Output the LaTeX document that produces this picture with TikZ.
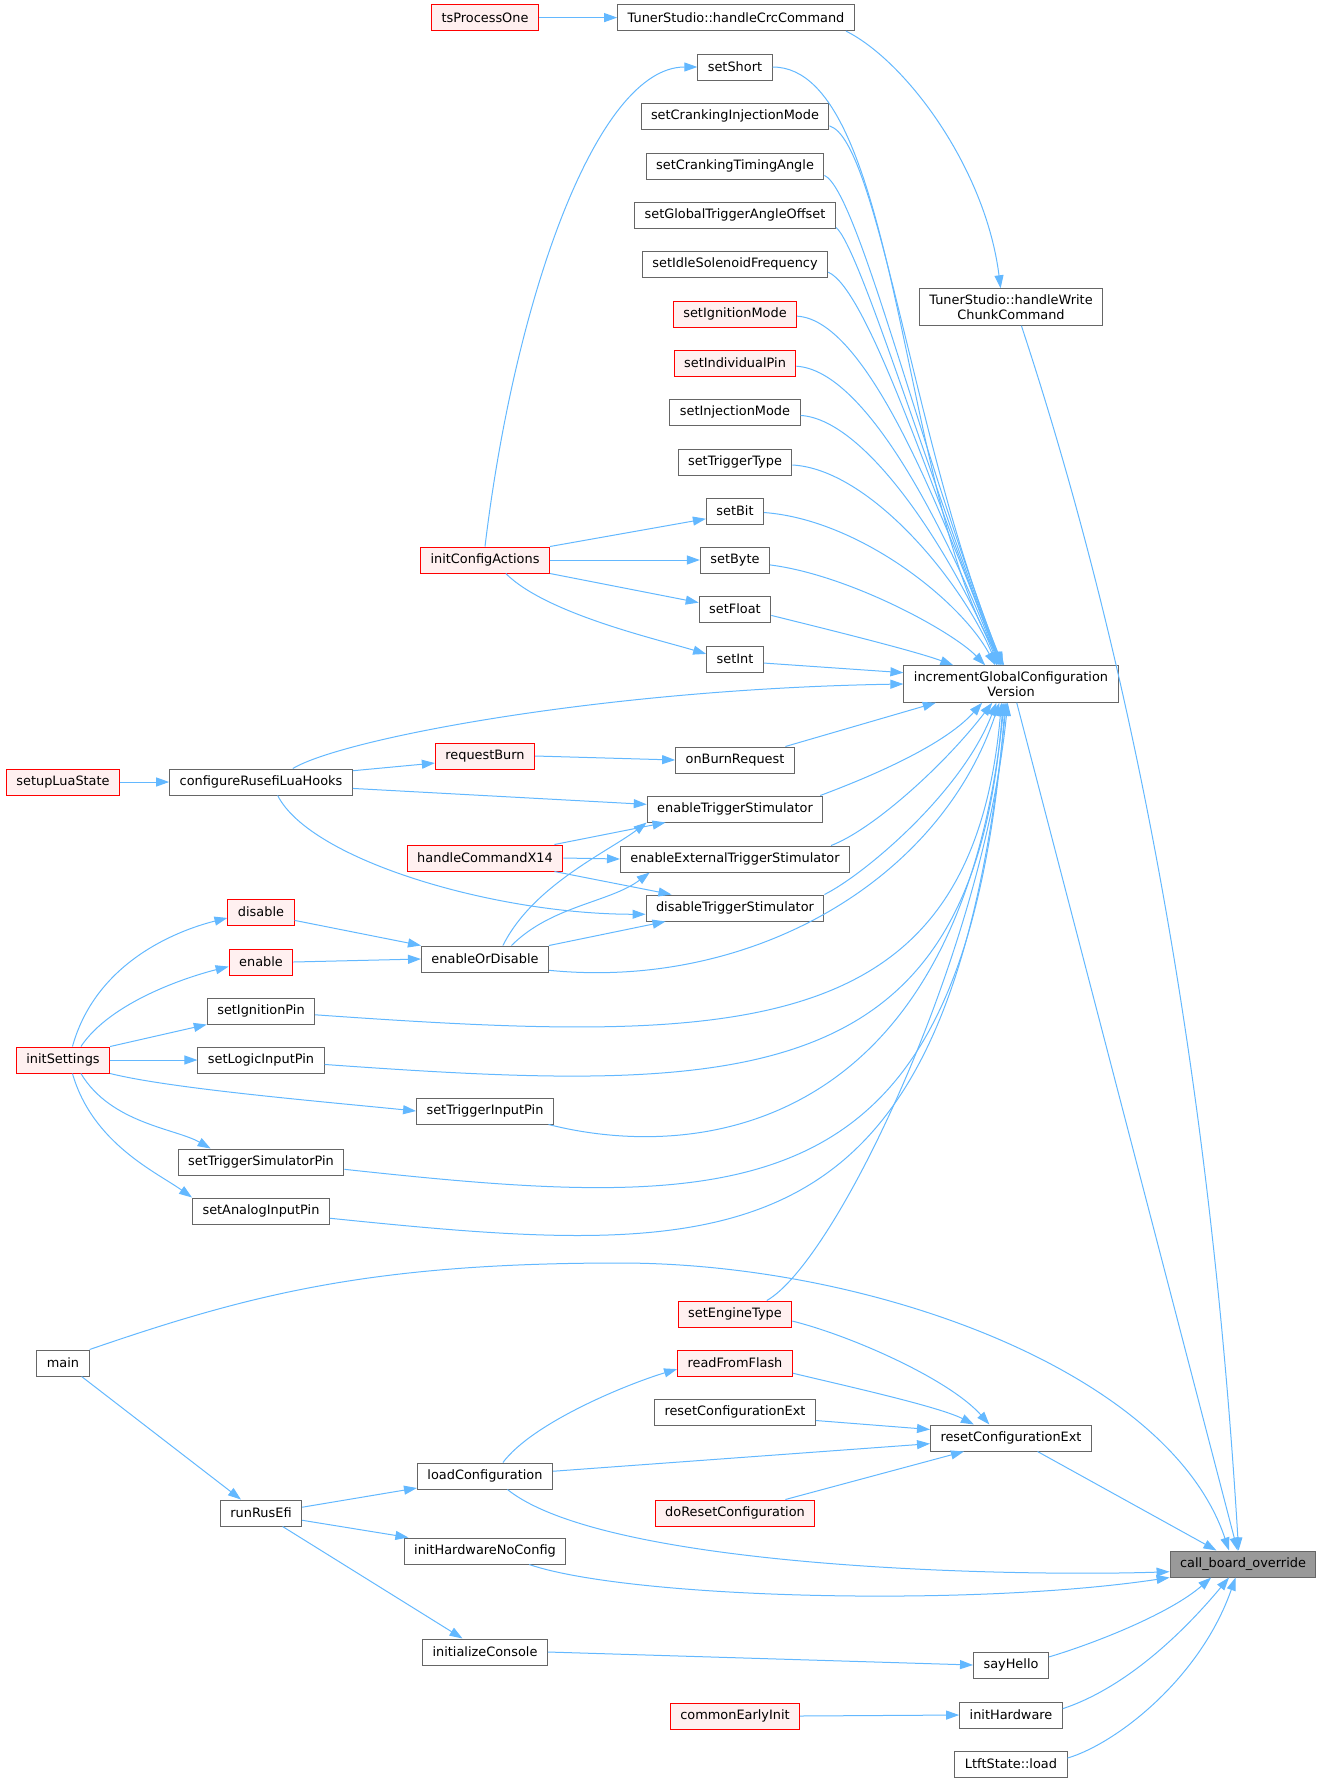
\documentclass[tikz,border=0pt]{standalone}
\usepackage{fontspec}
\setmainfont{DejaVu Sans}
\usetikzlibrary{arrows.meta}

\definecolor{edgeblue}{HTML}{63B8FF}
\definecolor{boxgray}{HTML}{666666}
\definecolor{boxred}{HTML}{FF0000}
\definecolor{redfill}{HTML}{FFF0F0}
\definecolor{hlfill}{HTML}{999999}

\begin{document}
\begin{tikzpicture}[x=1pt, y=-1pt,
	fn/.style={draw=boxgray, fill=white, line width=1pt, inner xsep=10pt, inner ysep=6pt, minimum height=26pt, align=center, font=\fontsize{12.9}{14.5}\selectfont},
	redfn/.style={fn, draw=boxred, fill=redfill},
	hlfn/.style={fn, fill=hlfill},
	edge/.style={draw=edgeblue, line width=1pt, -{Triangle[length=13pt, width=9pt]}}]
				\useasboundingbox (0, 0) rectangle (1324, 1783);
				
				\node[redfn] (ts) at (485, 17.6) {tsProcessOne};
				\node[fn] (crc) at (736, 17.6) {TunerStudio::handleCrcCommand};
				\node[fn] (wchunk) at (1011, 307) {TunerStudio::handleWrite\\ChunkCommand};
				\node[fn] (sshort) at (735, 67) {setShort};
				\node[fn] (scim) at (735, 116) {setCrankingInjectionMode};
				\node[fn] (scta) at (735, 166) {setCrankingTimingAngle};
				\node[fn] (sgtao) at (735, 215) {setGlobalTriggerAngleOffset};
				\node[fn] (sisf) at (735, 264) {setIdleSolenoidFrequency};
				\node[redfn] (sigm) at (735, 314) {setIgnitionMode};
				\node[redfn] (sindp) at (735, 363) {setIndividualPin};
				\node[fn] (sinjm) at (735, 412) {setInjectionMode};
				\node[fn] (stt) at (735, 462) {setTriggerType};
				\node[fn] (sbit) at (735, 511) {setBit};
				\node[fn] (sbyte) at (735, 560) {setByte};
				\node[fn] (sfloat) at (735, 609) {setFloat};
				\node[fn] (sint) at (735, 659) {setInt};
				\node[redfn] (ica) at (485, 560) {initConfigActions};
				\node[fn] (incr) at (1011, 684) {incrementGlobalConfiguration\\Version};
				\node[redfn] (rb) at (485, 756) {requestBurn};
				\node[fn] (obr) at (735, 760) {onBurnRequest};
				\node[redfn] (sls) at (63, 782) {setupLuaState};
				\node[fn] (crlh) at (261, 782) {configureRusefiLuaHooks};
				\node[fn] (ets) at (735, 809) {enableTriggerStimulator};
				\node[redfn] (hcx) at (485, 858) {handleCommandX14};
				\node[fn] (eets) at (735, 859) {enableExternalTriggerStimulator};
				\node[fn] (dts) at (735, 908) {disableTriggerStimulator};
				\node[redfn] (dis) at (261, 912) {disable};
				\node[redfn] (ena) at (261, 962) {enable};
				\node[fn] (eod) at (485, 959) {enableOrDisable};
				\node[fn] (sip) at (261, 1011) {setIgnitionPin};
				\node[redfn] (iset) at (63, 1060) {initSettings};
				\node[fn] (slip) at (261, 1060) {setLogicInputPin};
				\node[fn] (stip) at (485, 1111) {setTriggerInputPin};
				\node[fn] (stsp) at (261, 1162) {setTriggerSimulatorPin};
				\node[fn] (saip) at (261, 1211) {setAnalogInputPin};
				\node[fn] (main) at (63, 1363) {main};
				\node[redfn] (seng) at (735, 1314) {setEngineType};
				\node[redfn] (rff) at (735, 1363) {readFromFlash};
				\node[fn] (rcl) at (735, 1412) {resetConfigurationExt};
				\node[fn] (rcr) at (1011, 1438) {resetConfigurationExt};
				\node[fn] (lcfg) at (485, 1476) {loadConfiguration};
				\node[fn] (rre) at (261, 1513) {runRusEfi};
				\node[redfn] (drc) at (735, 1513) {doResetConfiguration};
				\node[fn] (ihnc) at (485, 1551) {initHardwareNoConfig};
				\node[hlfn] (cbo) at (1243, 1564) {call\_board\_override};
				\node[fn] (icon) at (485, 1652) {initializeConsole};
				\node[fn] (shel) at (1011, 1665) {sayHello};
				\node[redfn] (cei) at (735, 1716) {commonEarlyInit};
				\node[fn] (ihw) at (1011, 1715) {initHardware};
				\node[fn] (ltft) at (1011, 1764) {LtftState::load};
				\coordinate (mainbend) at (620, 1263);
				
				\draw[edge] (ts.east) -- (crc.west);
				\draw[edge] (crc.-7.5) .. controls +(60, 30) and +(-15, -120) .. (wchunk.119);
				\draw[edge] (wchunk.-61) .. controls +(132, 400) and +(-24, -400) .. (cbo.108);
				\draw[edge] (incr.-73) -- (cbo.112);
				
				\draw[edge] (ica.north) .. controls +(30, -250) and +(-100, 0) .. (sshort.west);
				\draw[edge] (ica.north east) -- (sbit.195);
				\draw[edge] (ica.east) -- (sbyte.west);
				\draw[edge] (ica.south east) -- (sfloat.170);
				\draw[edge] (ica.-33) .. controls +(40, 40) and +(-50, -15) .. (sint.170);
				
				\draw[edge] (sshort.east) .. controls +(127, 0) and +(-104, -164) .. (incr.110);
				\draw[edge] (scim.-6) .. controls +(49, 14) and +(-88, -214) .. (incr.113);
				\draw[edge] (scta.-6) .. controls +(33, 15) and +(-82, -214) .. (incr.115);
				\draw[edge] (sgtao.-7) .. controls +(23, 18) and +(-71, -184) .. (incr.117);
				\draw[edge] (sisf.-5) .. controls +(40, 17) and +(-65, -164) .. (incr.118);
				\draw[edge] (sigm.-2) .. controls +(72, 4) and +(-55, -144) .. (incr.120);
				\draw[edge] (sindp.-3) .. controls +(72, 4) and +(-48, -124) .. (incr.122);
				\draw[edge] (sinjm.-3) .. controls +(68, 4) and +(-42, -104) .. (incr.124);
				\draw[edge] (stt.-3) .. controls +(77, 4) and +(-35, -84) .. (incr.127);
				\draw[edge] (sbit.-3) .. controls +(95, 7) and +(-34, -64) .. (incr.130);
				\draw[edge] (sbyte.-8) .. controls +(79, 10) and +(-33, -34) .. (incr.144);
				\draw[edge] (sfloat.-10) .. controls +(40, 10) and +(-40, -15) .. (incr.162);
				\draw[edge] (sint.-8) -- (incr.174);
				
				\draw[edge] (sls.east) -- (crlh.west);
				\draw[edge] (crlh.23) .. controls +(50, -30) and +(-300, 5) .. (incr.west);
				\draw[edge] (crlh.7) -- (rb.188);
				\draw[edge] (rb.east) -- (obr.west);
				\draw[edge] (obr.15) -- (incr.194);
				\draw[edge] (crlh.-4) -- (ets.177);
				\draw[edge] (crlh.-39) .. controls +(33, 65) and +(-150, 0) .. (dts.184);
				\draw[edge] (ets.9) .. controls +(40, -15) and +(-40, 45) .. (incr.213);
				\draw[edge] (eets.8) .. controls +(40, -15) and +(-50, 65) .. (incr.225);
				\draw[edge] (dts.north east) .. controls +(40, -20) and +(-35, 90) .. (incr.232);
				\draw[edge] (hcx.11) -- (ets.191);
				\draw[edge] (hcx.east) -- (eets.west);
				\draw[edge] (hcx.-11) -- (dts.168);
				\draw[edge] (eod.37) .. controls +(30, -60) and +(-40, 30) .. (ets.south west);
				\draw[edge] (eod.27) .. controls +(40, -40) and +(-40, 30) .. (eets.189);
				\draw[edge] (eod.north east) -- (dts.191);
				\draw[edge] (dis.-14) -- (eod.north west);
				\draw[edge] (ena.east) -- (eod.west);
				\draw[edge] (eod.-10) .. controls +(200, 20) and +(-60, 180) .. (incr.238);
				
				\draw[edge] (iset.55) .. controls +(25, -90) and +(-40, 10) .. (dis.190);
				\draw[edge] (iset.37) .. controls +(30, -45) and +(-40, 10) .. (ena.188);
				\draw[edge] (iset.north east) -- (sip.south west);
				\draw[edge] (iset.east) -- (slip.west);
				\draw[edge] (iset.south east) .. controls +(60, 15) and +(-100, -10) .. (stip.west);
				\draw[edge] (iset.-37) .. controls +(30, 50) and +(-35, -20) .. (stsp.165);
				\draw[edge] (iset.-55) .. controls +(20, 70) and +(-35, -25) .. (saip.north west);
				\draw[edge] (sip.-4) .. controls +(425, 30) and +(-30, 341) .. (incr.243);
				\draw[edge] (slip.-4) .. controls +(420, 30) and +(-30, 391) .. (incr.247);
				\draw[edge] (stip.-12) .. controls +(154, 39) and +(-44, 426) .. (incr.250);
				\draw[edge] (stsp.-5) .. controls +(414, 45) and +(-40, 511) .. (incr.253);
				\draw[edge] (saip.-6) .. controls +(410, 42) and +(-57, 566) .. (incr.256);
				\draw[edge] (seng.23) .. controls +(70, -40) and +(-25, 250) .. (incr.260);
				
				\draw[edge] (main.north east) .. controls +(160, -55) and +(-250, 0) .. (mainbend) .. controls +(250, 0) and +(-60, -180) .. (cbo.136);
				\draw[edge] (main.-36) -- (rre.146);
				\draw[edge] (rre.8) -- (lcfg.190);
				\draw[edge] (rre.-10) -- (ihnc.170);
				\draw[edge] (rre.-32) -- (icon.149);
				\draw[edge] (lcfg.37) .. controls +(30, -40) and +(-50, 15) .. (rff.186);
				\draw[edge] (lcfg.4) -- (rcr.184);
				\draw[edge] (lcfg.-31) .. controls +(100, 80) and +(-150, 5) .. (cbo.186);
				\draw[edge] (ihnc.-17) .. controls +(100, 34) and +(-200, 30) .. (cbo.south west);
				\draw[edge] (seng.-7) .. controls +(60, 15) and +(-40, -45) .. (rcr.148);
				\draw[edge] (rff.-10) .. controls +(50, 12) and +(-35, -18) .. (rcr.160);
				\draw[edge] (rcl.-6) -- (rcr.174);
				\draw[edge] (drc.15) -- (rcr.196);
				\draw[edge] (rcr.-27) -- (cbo.153);
				\draw[edge] (icon.east) -- (shel.west);
				\draw[edge] (shel.12) .. controls +(50, -15) and +(-40, 35) .. (cbo.203);
				\draw[edge] (cei.east) -- (ihw.west);
				\draw[edge] (ihw.7) .. controls +(60, -20) and +(-50, 60) .. (cbo.224);
				\draw[edge] (ltft.6) .. controls +(50, -15) and +(-35, 100) .. (cbo.241);
				\end{tikzpicture}
\end{document}
